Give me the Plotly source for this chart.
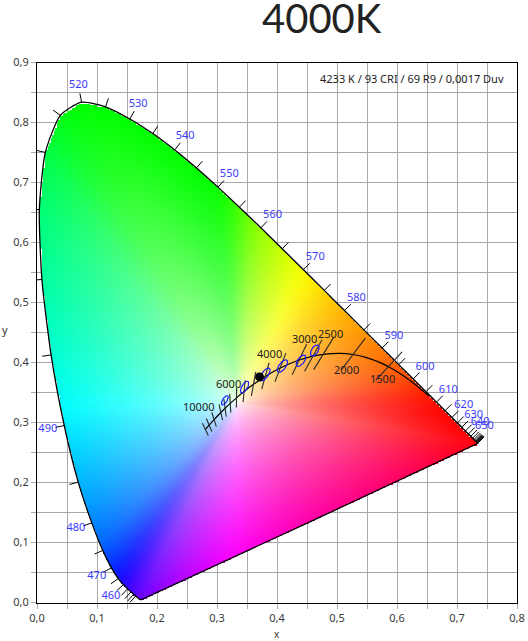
import numpy as np
import plotly.graph_objects as go

# CIE 1931 2 deg spectral locus, 5 nm steps
wavelengths = [380, 385, 390, 395, 400, 405, 410, 415, 420, 425, 430, 435, 440, 445, 450,
               455, 460, 465, 470, 475, 480, 485, 490, 495, 500, 505, 510, 515, 520, 525,
               530, 535, 540, 545, 550, 555, 560, 565, 570, 575, 580, 585, 590, 595, 600,
               605, 610, 615, 620, 625, 630, 635, 640, 645, 650, 655, 660, 665, 670, 675,
               680, 685, 690, 695, 700]
locus_x = [0.1741, 0.1740, 0.1738, 0.1736, 0.1733, 0.1730, 0.1726, 0.1721, 0.1714, 0.1703,
           0.1689, 0.1669, 0.1644, 0.1611, 0.1566, 0.1510, 0.1440, 0.1355, 0.1241, 0.1096,
           0.0913, 0.0687, 0.0454, 0.0235, 0.0082, 0.0039, 0.0139, 0.0389, 0.0743, 0.1142,
           0.1547, 0.1929, 0.2296, 0.2658, 0.3016, 0.3373, 0.3731, 0.4087, 0.4441, 0.4788,
           0.5125, 0.5448, 0.5752, 0.6029, 0.6270, 0.6482, 0.6658, 0.6801, 0.6915, 0.7006,
           0.7079, 0.7140, 0.7190, 0.7230, 0.7260, 0.7283, 0.7300, 0.7311, 0.7320, 0.7327,
           0.7334, 0.7340, 0.7344, 0.7346, 0.7347]
locus_y = [0.0050, 0.0050, 0.0049, 0.0049, 0.0048, 0.0048, 0.0048, 0.0048, 0.0051, 0.0058,
           0.0069, 0.0086, 0.0109, 0.0138, 0.0177, 0.0227, 0.0297, 0.0399, 0.0578, 0.0868,
           0.1327, 0.2007, 0.2950, 0.4127, 0.5384, 0.6548, 0.7502, 0.8120, 0.8338, 0.8262,
           0.8059, 0.7816, 0.7543, 0.7243, 0.6923, 0.6589, 0.6245, 0.5896, 0.5547, 0.5202,
           0.4866, 0.4544, 0.4242, 0.3965, 0.3725, 0.3514, 0.3340, 0.3197, 0.3083, 0.2993,
           0.2920, 0.2859, 0.2809, 0.2770, 0.2740, 0.2717, 0.2700, 0.2689, 0.2680, 0.2673,
           0.2666, 0.2660, 0.2656, 0.2654, 0.2653]

label_nm = [440, 450, 460, 470, 480, 490, 500, 510, 520, 530, 540, 550, 560, 570, 580,
            590, 600, 610, 620, 630, 640, 650]
tick_nm = [w for w in wavelengths if 440 <= w <= 695]

# Planckian locus
cct = [1000, 1200, 1400, 1500, 1600, 1800, 2000, 2200, 2500, 2700, 3000, 3500, 4000,
       4500, 5000, 5500, 6000, 6500, 7000, 8000, 9000, 10000]
planck_x = [0.6528, 0.6251, 0.5985, 0.5857, 0.5732, 0.5493, 0.5267, 0.5056, 0.4770, 0.4599,
            0.4369, 0.4053, 0.3805, 0.3608, 0.3451, 0.3325, 0.3221, 0.3135, 0.3064, 0.2952,
            0.2869, 0.2807]
planck_y = [0.3444, 0.3674, 0.3858, 0.3931, 0.3993, 0.4082, 0.4133, 0.4152, 0.4137, 0.4106,
            0.4041, 0.3907, 0.3768, 0.3636, 0.3516, 0.3411, 0.3318, 0.3237, 0.3166, 0.3048,
            0.2956, 0.2884]
isotherm_cct = [1500, 2000, 2500, 2700, 3000, 3500, 4000, 4500, 5000, 5500, 6000, 6500,
                7000, 8000, 9000, 10000]
cct_labels = [10000, 6000, 4000, 3000, 2500, 2000, 1500]
cct_label_shift = [(-7, 23), (-2, 20), (4, 23), (5, 22), (7, 21), (-7, -15), (-6, -12)]

# IEC 60081 one-step ellipses
ell_x = [0.313, 0.346, 0.380, 0.409, 0.440, 0.463]
ell_y = [0.337, 0.359, 0.380, 0.394, 0.403, 0.420]
ell_a = [0.00223, 0.00274, 0.00313, 0.00309, 0.00278, 0.00258]
ell_b = [0.00095, 0.00118, 0.00134, 0.00138, 0.00136, 0.00137]
ell_theta = [58.23, 59.37, 54.00, 52.66, 53.13, 57.28]
ell_steps = 4

# measured sample
sample_x = [0.371]
sample_y = [0.376]
sample_text = "4233 K / 93 CRI / 69 R9 / 0,0017 Duv"

lx = np.array(locus_x)
ly = np.array(locus_y)

M = np.array([[3.2406, -1.5372, -0.4986],
              [-0.9689, 1.8758, 0.0415],
              [0.0557, -0.2040, 1.0570]])
wx0, wy0 = 0.3333, 0.3333


def vivid(x, y):
    # clipped, max-normalised sRGB colour of a chromaticity
    XX = x / y
    ZZ = (1 - x - y) / y
    rgb = np.stack([M[i, 0] * XX + M[i, 1] + M[i, 2] * ZZ for i in range(3)], axis=-1)
    rgb = np.clip(rgb, 0, None)
    rgb = rgb / rgb.max(axis=-1, keepdims=True)
    return np.where(rgb <= 0.0031308, 12.92 * rgb, 1.055 * rgb ** (1 / 2.4) - 0.055)


def inside_polygon(px, py, vx, vy):
    inside = np.zeros(px.shape, bool)
    j = len(vx) - 1
    for i in range(len(vx)):
        cross = (vy[i] > py) != (vy[j] > py)
        xint = (vx[j] - vx[i]) * (py - vy[i]) / (vy[j] - vy[i] + 1e-12) + vx[i]
        inside ^= cross & (px < xint)
        j = i
    return inside


def ray_hit(dxn, dyn):
    # distance from the white point to the locus outline along unit directions
    vx = np.append(lx, lx[0])
    vy = np.append(ly, ly[0])
    R = np.full(np.shape(dxn), np.inf)
    for k in range(len(vx) - 1):
        ex_, ey_ = vx[k + 1] - vx[k], vy[k + 1] - vy[k]
        if ex_ == 0 and ey_ == 0:
            continue
        den = dxn * ey_ - dyn * ex_
        den = np.where(np.abs(den) < 1e-12, 1e-12, den)
        awx, awy = vx[k] - wx0, vy[k] - wy0
        s = (awx * ey_ - awy * ex_) / den
        u = (awx * dyn - awy * dxn) / den
        ok = (u >= 0) & (u <= 1) & (s > 0)
        R = np.where(ok & (s < R), s, R)
    return R


# edge colour as a smooth function of angle round the white point
n_ang = 1440
ang = np.linspace(-np.pi, np.pi, n_ang, endpoint=False)
Ra = ray_hit(np.cos(ang), np.sin(ang))
edge_a = vivid(wx0 + Ra * np.cos(ang), wy0 + Ra * np.sin(ang))
sig = 14
kern = np.exp(-0.5 * (np.arange(-3 * sig, 3 * sig + 1) / sig) ** 2)
kern /= kern.sum()
pad = 3 * sig
edge_s = np.stack([np.convolve(np.concatenate([c[-pad:], c, c[:pad]]), kern, mode="valid")
                   for c in edge_a.T], axis=-1)

# colour fill of the horseshoe: each pixel blends from white to the edge colour on its ray
step = 0.0025
gx = np.arange(0, 0.74, step) + step / 2
gy = np.arange(0, 0.84, step) + step / 2
X, Y = np.meshgrid(gx, gy)
rx, ry = X - wx0, Y - wy0
rr = np.hypot(rx, ry) + 1e-9
R = ray_hit(rx / rr, ry / rr)
pos = (np.arctan2(ry, rx) + np.pi) / (2 * np.pi) * n_ang
i0 = np.floor(pos).astype(int) % n_ang
i1 = (i0 + 1) % n_ang
fr = (pos - np.floor(pos))[..., None]
edge = edge_s[i0] * (1 - fr) + edge_s[i1] * fr
t = np.clip(rr / R, 0, 1)[..., None] ** 0.6
rgb = np.clip(1 - (1 - edge) * t, 0, 1)
mask = inside_polygon(X, Y, lx, ly)
rgba = np.zeros(X.shape + (4,))
rgba[..., :3] = np.round(rgb * 255)
rgba[..., 3] = mask.astype(float)

fig = go.Figure()
fig.add_trace(go.Image(z=rgba.tolist(), colormodel="rgba", x0=gx[0], y0=gy[0],
                       dx=step, dy=step, hoverinfo="skip"))

# outline
fig.add_trace(go.Scatter(x=locus_x + [locus_x[0]], y=locus_y + [locus_y[0]], mode="lines",
                         line=dict(color="black", width=1.3, shape="spline", smoothing=0.6),
                         hoverinfo="skip"))


def outward(i):
    i0, i1 = max(i - 1, 0), min(i + 1, len(lx) - 1)
    dx, dy = lx[i1] - lx[i0], ly[i1] - ly[i0]
    n = np.hypot(dx, dy)
    return -dy / n, dx / n


# wavelength ticks
tx, ty = [], []
for w in tick_nm:
    i = wavelengths.index(w)
    nx, ny = outward(i)
    tx += [lx[i], lx[i] + nx * 0.015, None]
    ty += [ly[i], ly[i] + ny * 0.015, None]
fig.add_trace(go.Scatter(x=tx, y=ty, mode="lines", line=dict(color="black", width=1),
                         hoverinfo="skip"))

# wavelength labels
wx, wy = [], []
for w in label_nm:
    i = wavelengths.index(w)
    nx, ny = outward(i)
    wx.append(lx[i] + nx * 0.028)
    wy.append(ly[i] + ny * 0.028)
fig.add_trace(go.Scatter(x=wx, y=wy, mode="text", text=[str(w) for w in label_nm],
                         textfont=dict(family="Noto Sans", size=11, color="#3c3cff"),
                         cliponaxis=False, hoverinfo="skip"))

# planckian locus
fig.add_trace(go.Scatter(x=planck_x, y=planck_y, mode="lines", line_shape="spline",
                         line=dict(color="black", width=1.2), hoverinfo="skip"))


def to_uv(x, y):
    d = -2 * x + 12 * y + 3
    return 4 * x / d, 6 * y / d


def to_xy(u, v):
    d = 2 * u - 8 * v + 4
    return 3 * u / d, 2 * v / d


px_arr = np.array(planck_x)
py_arr = np.array(planck_y)
pu, pv = to_uv(px_arr, py_arr)
ix, iy = [], []
for tc in isotherm_cct:
    i = cct.index(tc)
    j0, j1 = max(i - 1, 0), min(i + 1, len(cct) - 1)
    du, dv = pu[j1] - pu[j0], pv[j1] - pv[j0]
    n = np.hypot(du, dv)
    nu, nv = -dv / n, du / n
    h = 0.0085
    x1, y1 = to_xy(pu[i] + nu * h, pv[i] + nv * h)
    x2, y2 = to_xy(pu[i] - nu * h, pv[i] - nv * h)
    ix += [x1, x2, None]
    iy += [y1, y2, None]
fig.add_trace(go.Scatter(x=ix, y=iy, mode="lines", line=dict(color="#2a2a2a", width=1.1),
                         hoverinfo="skip"))

# ellipses
ex, ey = [], []
tt = np.linspace(0, 2 * np.pi, 60)
for cx, cy, a, b, th in zip(ell_x, ell_y, ell_a, ell_b, ell_theta):
    r = np.radians(th)
    A, B = a * ell_steps, b * ell_steps
    ex += list(cx + A * np.cos(tt) * np.cos(r) - B * np.sin(tt) * np.sin(r)) + [None]
    ey += list(cy + A * np.cos(tt) * np.sin(r) + B * np.sin(tt) * np.cos(r)) + [None]
fig.add_trace(go.Scatter(x=ex, y=ey, mode="lines", line=dict(color="#1a1aff", width=1.2),
                         hoverinfo="skip"))

# sample point
fig.add_trace(go.Scatter(x=sample_x, y=sample_y, mode="markers",
                         marker=dict(color="black", size=9), hoverinfo="skip"))

annotations = []
for tc, (sx, sy) in zip(cct_labels, cct_label_shift):
    i = cct.index(tc)
    annotations.append(dict(x=planck_x[i], y=planck_y[i], text=str(tc), showarrow=False,
                            xshift=sx, yshift=sy,
                            font=dict(family="Noto Sans", size=11, color="#222222")))
annotations.append(dict(xref="paper", yref="paper", x=0.977, y=0.970, xanchor="right",
                        yanchor="middle", text=sample_text, showarrow=False,
                        font=dict(family="Noto Sans", size=11, color="#222222")))
annotations.append(dict(xref="paper", yref="paper", x=0.594, y=1.081, xanchor="center",
                        yanchor="middle", text="4000K", showarrow=False,
                        font=dict(family="Lato", size=40, color="#222222")))
annotations.append(dict(xref="paper", yref="paper", x=-0.066, y=0.505, xanchor="center",
                        yanchor="middle", text="y", showarrow=False,
                        font=dict(family="Noto Sans", size=11, color="#333")))
annotations.append(dict(xref="paper", yref="paper", x=0.5, y=-0.058, xanchor="center",
                        yanchor="middle", text="x", showarrow=False,
                        font=dict(family="Noto Sans", size=10, color="#333")))

axis_common = dict(tick0=0, dtick=0.1, tickformat=".1f", showgrid=True, gridcolor="#a9a9a9",
                   gridwidth=1, ticks="outside", ticklen=5, tickcolor="#a9a9a9",
                   showline=True, linecolor="black", linewidth=1, mirror=True, zeroline=False,
                   tickfont=dict(family="Noto Sans", size=11, color="#3a3a3a"),
                   minor=dict(dtick=0.05, tick0=0, showgrid=True, gridcolor="#a9a9a9",
                              ticks="outside", ticklen=5, tickcolor="#a9a9a9"),
                   automargin=False, fixedrange=True)

fig.update_layout(
    width=528, height=641,
    margin=dict(l=37, r=11, t=62, b=38),
    paper_bgcolor="white", plot_bgcolor="white",
    showlegend=False,
    separators=",.",
    xaxis=dict(range=[0, 0.8], **axis_common),
    yaxis=dict(range=[0, 0.9], **axis_common),
    annotations=annotations,
)

# drop the browser's default page margin so the figure sits at the window corner
fig.write_html("out.html", config={"displayModeBar": False},
               post_script="document.body.style.margin = '0';")
